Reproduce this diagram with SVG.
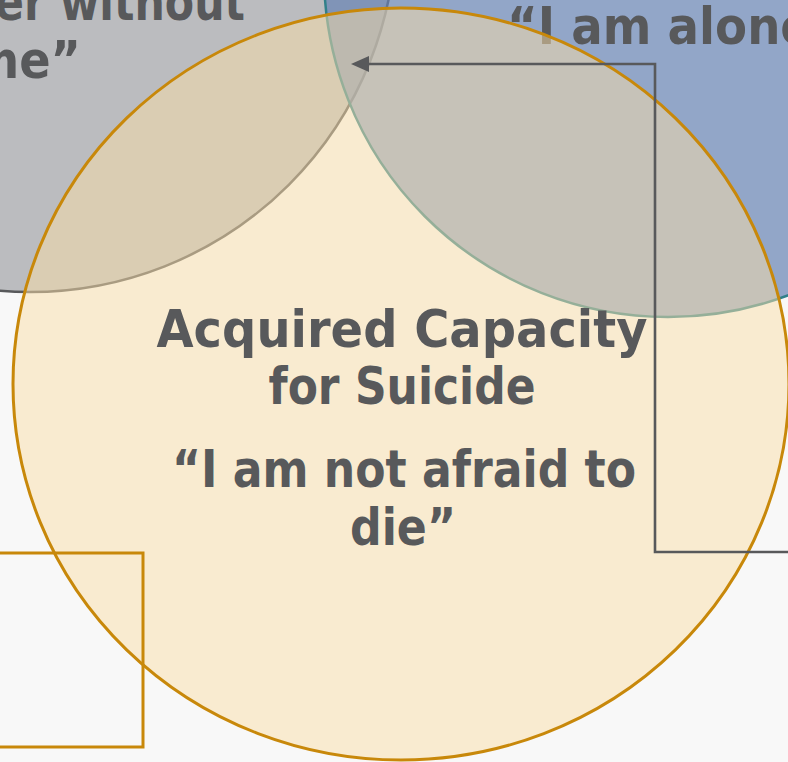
<svg xmlns="http://www.w3.org/2000/svg" width="788" height="762" viewBox="0 0 788 762">
<defs>
<style>
.lbl{font-family:"DejaVu Sans","Liberation Sans",sans-serif;font-weight:bold;font-size:52px;fill:#58595B}
.conn{fill:none;stroke:#58595B;stroke-width:2.6}
</style>
</defs>
<rect x="0" y="0" width="788" height="762" fill="#F8F8F8"/>
<g id="node-burden">
<circle cx="30" cy="-74" r="366" fill="#BBBCBF" stroke="#58595B" stroke-width="2.5"/>
<text class="lbl" x="245" y="20" text-anchor="end" textLength="250" lengthAdjust="spacingAndGlyphs">er without</text>
<text class="lbl" x="81" y="78" text-anchor="end" textLength="110" lengthAdjust="spacingAndGlyphs">me”</text>
</g>
<g id="node-alone">
<circle cx="668" cy="-27" r="344" fill="#6683B4" fill-opacity="0.7" stroke="#31808A" stroke-width="2.5"/>
<text class="lbl" x="507" y="44" textLength="305" lengthAdjust="spacingAndGlyphs">“I am alone</text>
</g>
<g id="node-capacity">
<ellipse cx="401" cy="384" rx="388" ry="376" fill="#FADEA8" fill-opacity="0.5" stroke="#C8880A" stroke-width="3"/>
<text class="lbl" x="402" y="347" text-anchor="middle" textLength="491" lengthAdjust="spacingAndGlyphs">Acquired Capacity</text>
<text class="lbl" x="402" y="404" text-anchor="middle" textLength="267" lengthAdjust="spacingAndGlyphs">for Suicide</text>
<text class="lbl" x="404" y="487" text-anchor="middle" textLength="464" lengthAdjust="spacingAndGlyphs">“I am not afraid to</text>
<text class="lbl" x="403" y="545" text-anchor="middle" textLength="106" lengthAdjust="spacingAndGlyphs">die”</text>
</g>
<g id="node-box">
<rect x="-10" y="553" width="153" height="194" fill="none" stroke="#C8880A" stroke-width="3"/>
</g>
<g id="connectors">
<path class="conn" d="M790,552 H655 V64 H366"/>
<path d="M351,64 L369,56 L369,72 Z" fill="#58595B"/>
</g>
</svg>
